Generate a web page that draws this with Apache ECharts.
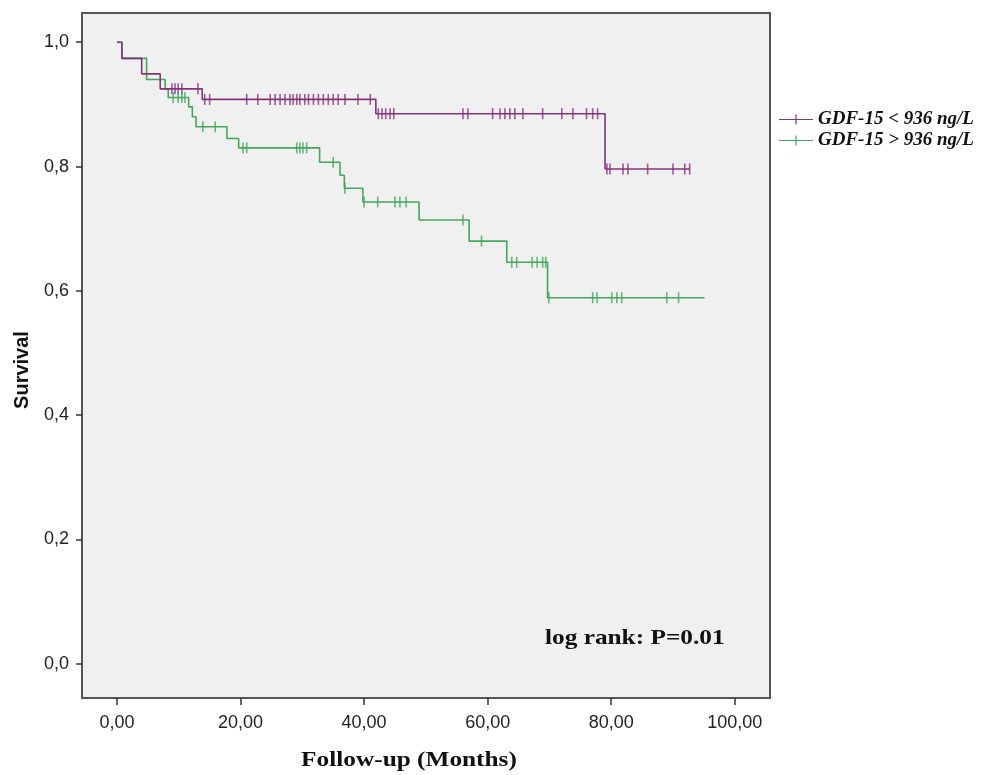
<!DOCTYPE html>
<html>
<head>
<meta charset="utf-8">
<script src="https://cdn.jsdelivr.net/npm/echarts@6/dist/echarts.min.js"></script>
<style>html,body{margin:0;padding:0;background:#fff;}#c{width:989px;height:775px;}</style>
</head>
<body>
<div id="c"></div>
<script>
// ---- data ----
const seriesNames = ['GDF-15 < 936 ng/L', 'GDF-15 > 936 ng/L'];
const xTicks = [0, 20, 40, 60, 80, 100];
const yTicks = [0, 0.2, 0.4, 0.6, 0.8, 1.0];

// Kaplan-Meier steps: [time, survival after event]
const lowEvents = [[0,1.0],[0.8,0.974],[4.0,0.949],[7.0,0.925],[13.8,0.908],[41.9,0.885],[79.0,0.796],[92.7,0.796]];
const highEvents = [[0,1.0],[0.8,0.974],[4.8,0.94],[7.8,0.925],[8.3,0.911],[11.6,0.896],[12.2,0.88],[12.8,0.864],[17.8,0.845],[19.7,0.83],[32.8,0.807],[36.1,0.786],[36.8,0.765],[39.8,0.743],[48.9,0.714],[57.0,0.68],[63.1,0.646],[69.7,0.589],[95.1,0.589]];

// censored times
const lowCensor = [8.9,9.4,9.9,10.5,13.1,14.2,15.0,21.0,22.8,24.8,25.6,26.4,27.2,28.0,28.5,29.1,29.6,30.4,31.0,31.8,32.6,33.4,34.2,35.0,35.8,36.9,39.0,41.0,42.3,42.9,43.5,44.2,44.8,56.0,56.8,60.8,62.0,62.8,63.6,64.4,65.7,68.9,72.0,73.8,76.0,77.0,77.8,79.3,79.8,81.9,82.7,85.9,90.0,91.9,92.7];
const highCensor = [9.1,9.9,10.5,11.0,13.9,15.9,20.4,21.0,29.1,29.6,30.1,30.7,35.0,36.9,40.0,42.2,45.0,45.8,46.8,56.0,59.0,63.9,64.7,67.2,68.0,68.9,69.4,69.9,77.0,77.7,80.1,80.9,81.7,89.0,90.9];

const colors = ['#82357b', '#44a85c'];

function levelAt(events, t) {
  let v = events[0][1];
  for (const e of events) { if (e[0] <= t) v = e[1]; }
  return v;
}
const censorPts = (events, times) => times.map(t => [t, levelAt(events, t)]);

const plusIcon = 'path://M0,4.4 H34 V5.6 H0 Z M16.4,0 H17.6 V10 H16.4 Z';

const chart = echarts.init(document.getElementById('c'), null, {renderer: 'canvas'});
chart.setOption({
  backgroundColor: '#ffffff',
  animation: false,
  grid: {left: 82, top: 13, right: 219, bottom: 77, show: true, backgroundColor: '#f0f0f0', borderColor: '#555', borderWidth: 2},
  legend: {
    data: seriesNames.map(n => ({name: n, icon: plusIcon})),
    orient: 'vertical', left: 774, top: 105, itemWidth: 34, itemHeight: 12, itemGap: 2,
    textStyle: {fontFamily: 'Liberation Serif', fontStyle: 'italic', fontWeight: 'bold', fontSize: 19, color: '#111'}
  },
  xAxis: {
    type: 'value', min: -5.66, max: 105.7,
    axisLine: {show: true, onZero: false, lineStyle: {color: '#555', width: 2}},
    axisTick: {show: true, inside: false, length: 7, customValues: xTicks, lineStyle: {color: '#333', width: 1.5}},
    axisLabel: {customValues: xTicks, margin: 16, fontFamily: 'Liberation Sans', fontSize: 18, color: '#222',
      formatter: v => v.toFixed(2).replace('.', ',')},
    splitLine: {show: false}
  },
  yAxis: {
    type: 'value', min: -0.055, max: 1.047,
    axisLine: {show: true, onZero: false, lineStyle: {color: '#555', width: 2}},
    axisTick: {show: true, inside: false, length: 6, customValues: yTicks, lineStyle: {color: '#333', width: 1.5}},
    axisLabel: {customValues: yTicks, margin: 13, fontFamily: 'Liberation Sans', fontSize: 18, color: '#222',
      formatter: v => v.toFixed(1).replace('.', ',')},
    splitLine: {show: false}
  },
  graphic: [
    {type: 'text', style: {text: 'Survival', font: 'bold 20px "Liberation Sans"', fill: '#111', align: 'center', verticalAlign: 'middle'},
      x: 22, y: 370, rotation: Math.PI / 2},
    {type: 'text', style: {text: 'Follow-up (Months)', font: 'bold 22px "Liberation Serif"', fill: '#111', align: 'center', verticalAlign: 'middle'},
      x: 409, y: 760, scaleX: 1.15},
    {type: 'text', style: {text: 'log rank: P=0.01', font: 'bold 22px "Liberation Serif"', fill: '#111', align: 'left', verticalAlign: 'middle'},
      x: 545, y: 638, scaleX: 1.15}
  ],
  series: [
    {name: seriesNames[0], type: 'line', step: 'end', data: lowEvents, showSymbol: false, symbol: 'none',
      lineStyle: {color: colors[0], width: 1.6}, itemStyle: {color: colors[0]}, z: 3},
    {name: seriesNames[1], type: 'line', step: 'end', data: highEvents, showSymbol: false, symbol: 'none',
      lineStyle: {color: colors[1], width: 1.6}, itemStyle: {color: colors[1]}, z: 2},
    {name: 'c0', type: 'scatter', data: censorPts(lowEvents, lowCensor), symbol: 'rect', symbolSize: [1.6, 11],
      itemStyle: {color: colors[0]}, silent: true, z: 4},
    {name: 'c1', type: 'scatter', data: censorPts(highEvents, highCensor), symbol: 'rect', symbolSize: [1.6, 11],
      itemStyle: {color: colors[1]}, silent: true, z: 4}
  ]
});
</script>
</body>
</html>
